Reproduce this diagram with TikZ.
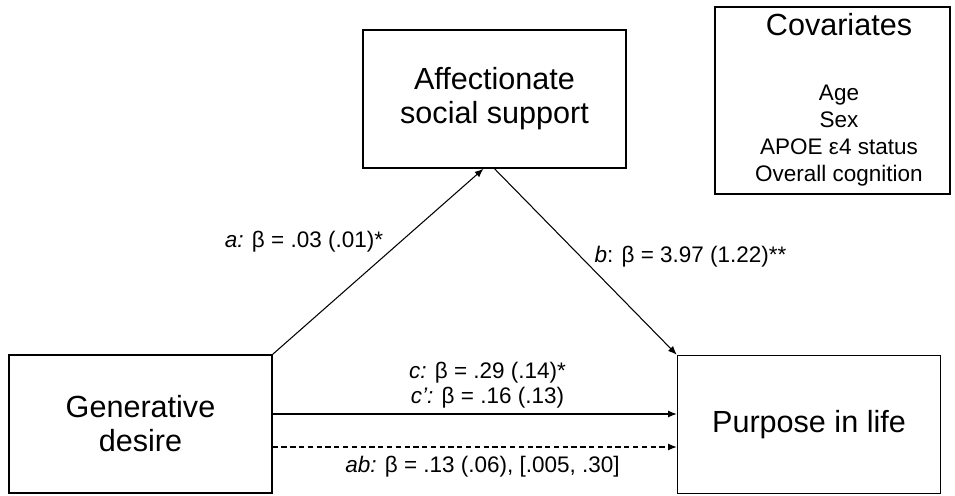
\documentclass[tikz,border=0pt]{standalone}
\usepackage{fontspec}
\setmainfont{Liberation Sans}
\usetikzlibrary{arrows.meta}

\begin{document}
\begin{tikzpicture}[scale=0.2,
    box/.style={draw=black, line width=0.8pt, minimum width=5.26cm, minimum height=2.76cm,
        inner sep=0pt, align=center, font=\fontsize{17.4}{19.4}\selectfont},
    arr/.style={-{Latex[length=5pt,width=4pt]}, line width=0.6pt},
    lab/.style={inner sep=0pt, anchor=base, font=\fontsize{12.8}{15.3}\selectfont}]
    \useasboundingbox (0,0) rectangle (95.5,-49.5);
    \node [box] (asup) at (49.45,-9.9) {Affectionate\\social support};
    \node [box] (gen) at (14.05,-42.4) {Generative\\desire};
    \node [box] (purp) at (80.9,-42.45) {Purpose in life};
    \node [box, minimum width=4.7cm, minimum height=3.74cm] (cov) at (83.25,-10.05) {};
    \node [lab, font=\fontsize{17.4}{19.4}\selectfont] (covtitle) at (83.9,-3.5) {Covariates};
    \foreach \y/\t [count=\i] in {-10.0/Age, -12.7/Sex, -15.4/APOE ε4 status, -18.1/Overall cognition}
        \node [lab] (cov\i) at (83.9,\y) {\t};
    \draw [arr] (gen.north east) -- ([xshift=-1.1cm]asup.south);
    \draw [arr] (asup.south) -- (purp.north west);
    \draw [arr] ([yshift=1cm]gen.east) -- ([yshift=1cm]gen.east -| purp.west);
    \draw [arr, dash pattern=on 3pt off 2pt] ([yshift=-2.3cm]gen.east) -- ([yshift=-2.3cm]gen.east -| purp.west);
    \node [lab] (alab) at (30.4,-24.7) {\textit{a:} β = .03 (.01)*};
    \node [lab] (blab) at (69.05,-26.2) {\textit{b}: β = 3.97 (1.22)**};
    \node [lab] (clab) at (48.75,-37.8) {\textit{c:} β = .29 (.14)*};
    \node [lab] (cplab) at (48.75,-40.3) {\textit{c’:} β = .16 (.13)};
    \node [lab] (ablab) at (48.25,-47.2) {\textit{ab:} β = .13 (.06), [.005, .30]};
\end{tikzpicture}
\end{document}
